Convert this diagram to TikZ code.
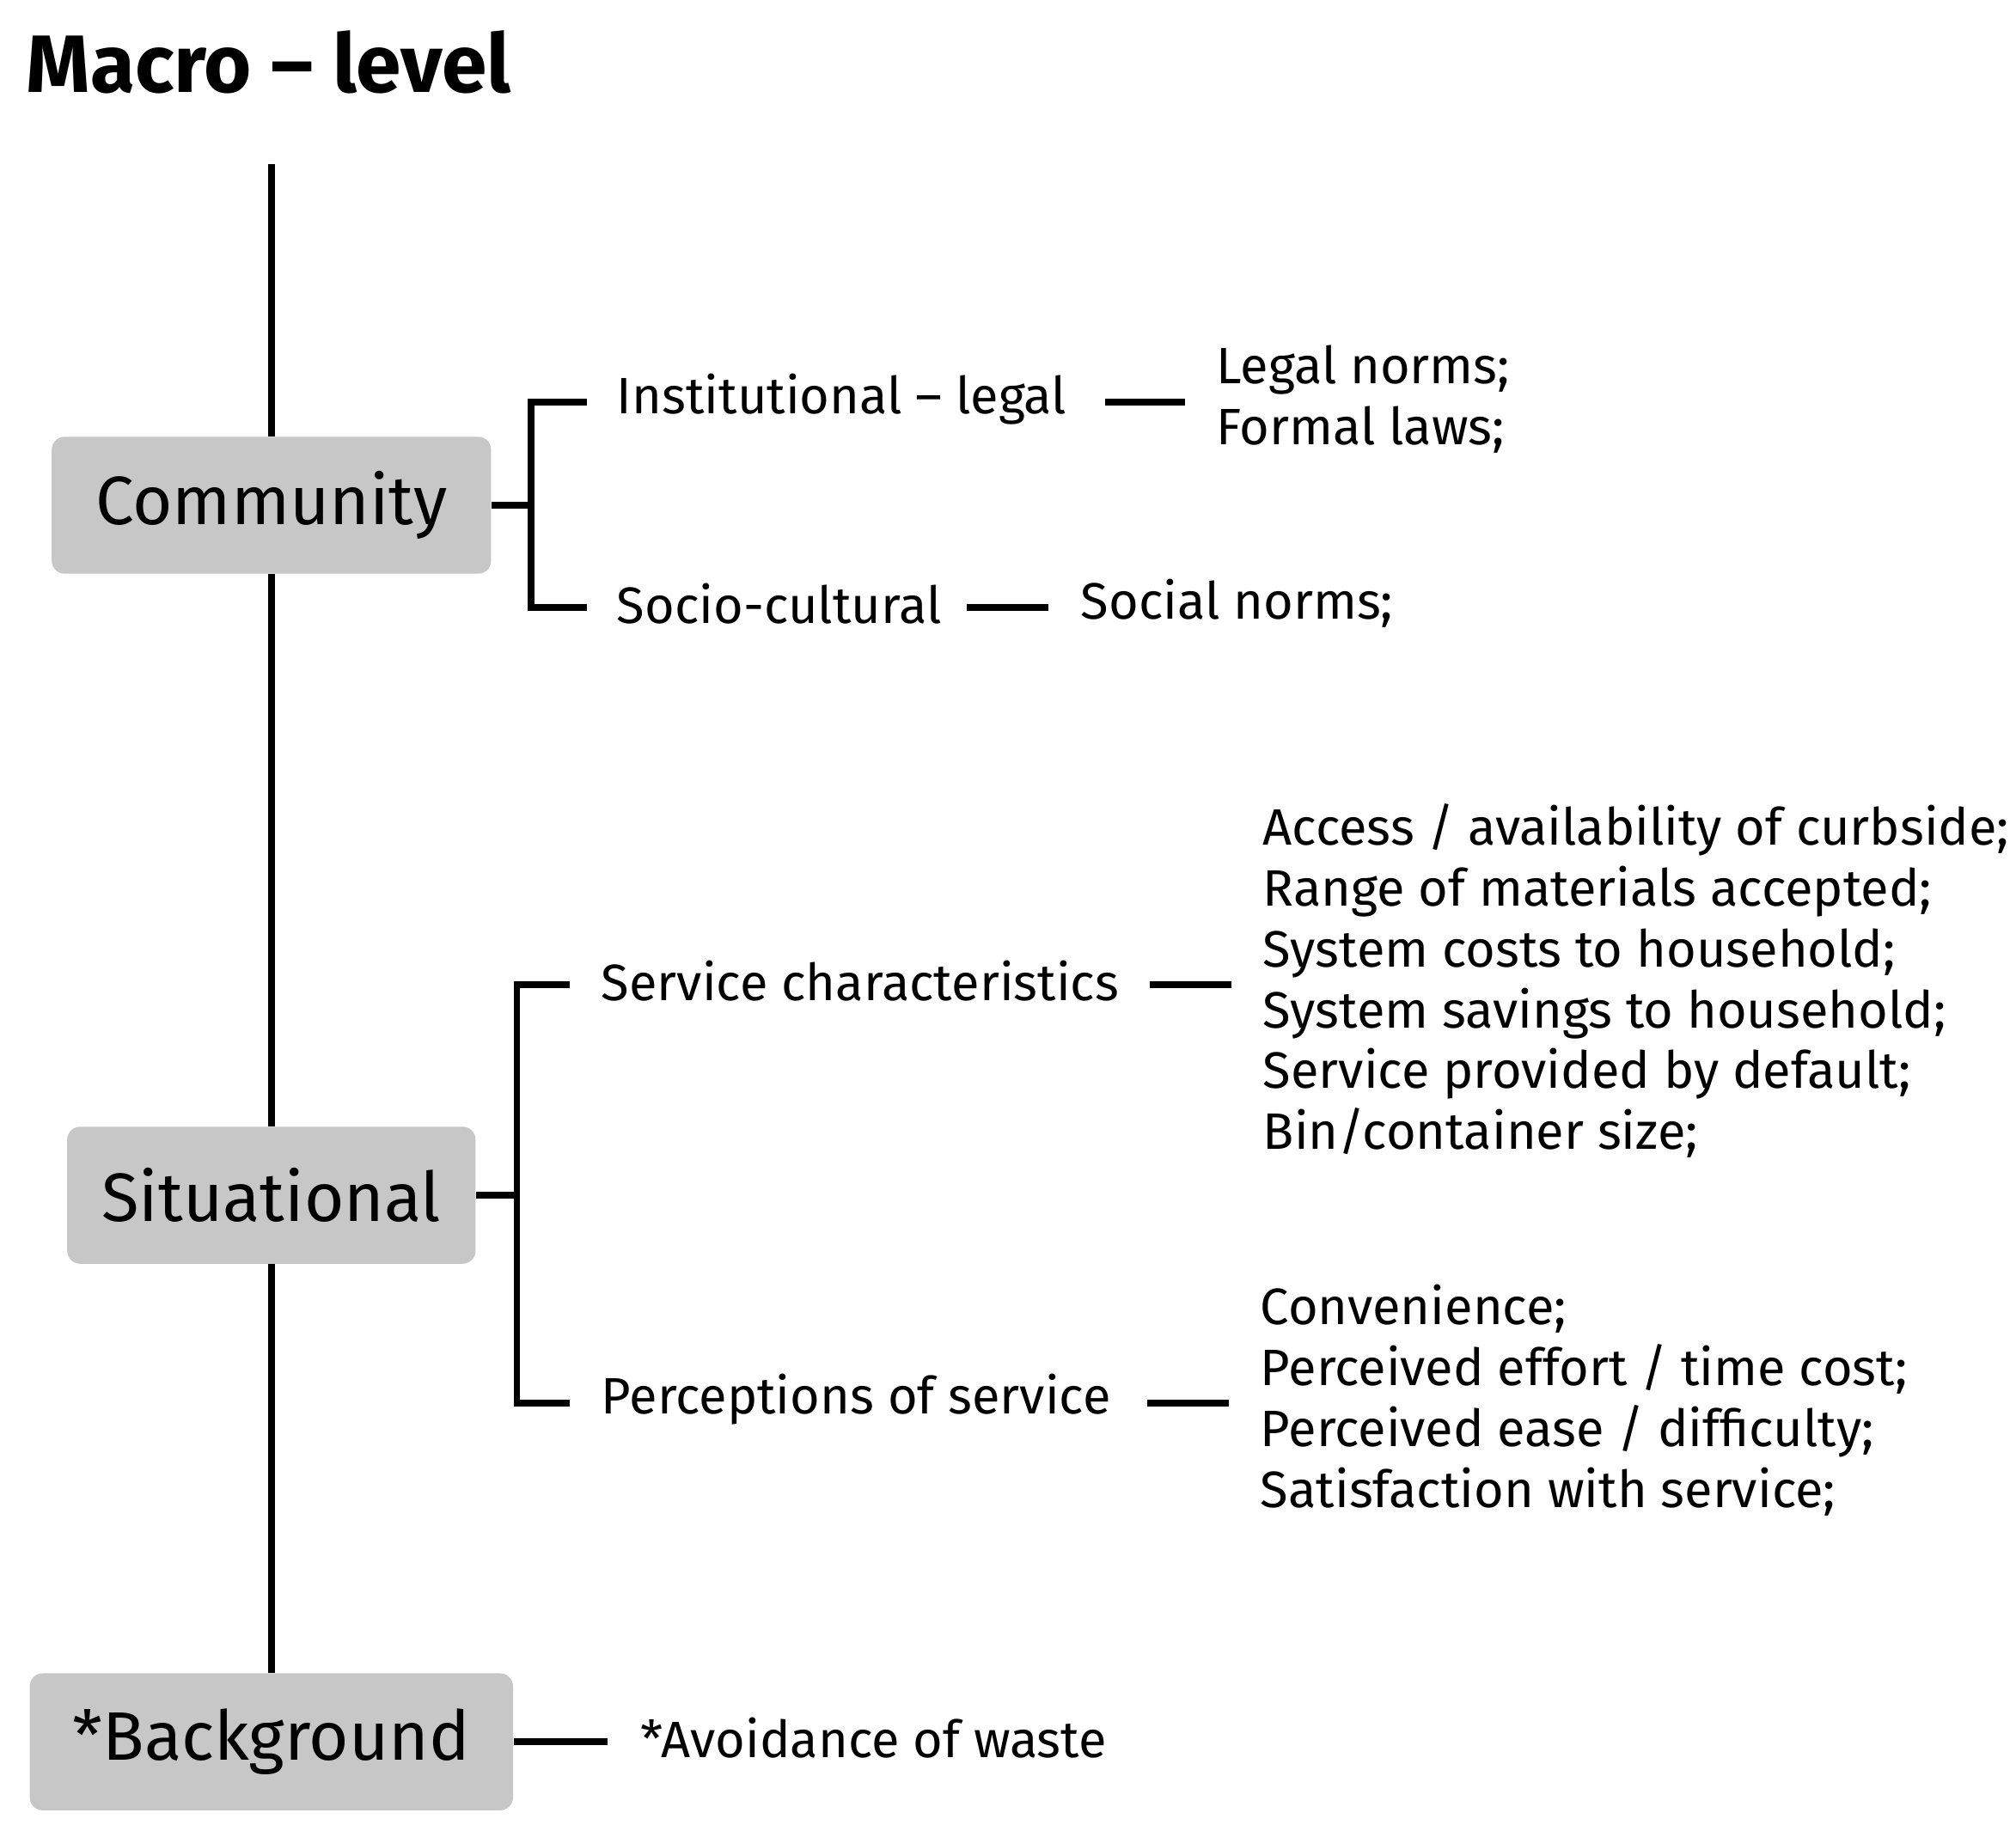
\documentclass[tikz,border=0pt]{standalone}
\usepackage{fontspec}
\setmainfont{Fira Sans}
\begin{document}
\begin{tikzpicture}[x=0.5pt,y=-0.5pt,
  ln/.style={line width=2.6pt},
  box/.style={fill=black!22,rounded corners=5pt,inner sep=0pt,font=\fontsize{26.5}{32}\selectfont},
  txt/.style={anchor=west,inner sep=0pt,font=\fontsize{19.8}{23.6}\selectfont,align=left}]
\useasboundingbox (0,0) rectangle (1560,1412);
\node[anchor=west,inner sep=0pt,font=\fontsize{31.5}{38}\bfseries\selectfont] (title) at (20,48) {Macro -- level};
\coordinate (top) at (210,127);
\node[box,minimum width=170pt,minimum height=53pt] (com) at (210,391) {Community};
\node[box,minimum width=158pt,minimum height=53pt] (sit) at (210,925) {Situational};
\node[box,minimum width=187pt,minimum height=53pt] (bg) at (210,1348) {*Background};
\draw[ln] (top) -- (com.north);
\draw[ln] (com.south) -- (sit.north);
\draw[ln] (sit.south) -- (bg.north);
% community
\node[txt] (inst) at (477,309) {Institutional -- legal};
\node[txt] (soc) at (477,467) {Socio-cultural};
\draw[ln] (com.east) -- (411,391);
\draw[ln] (454,311) -| (411,470) -- (454,470);
\node[txt] (legal) at (941,309) {Legal norms;\\Formal laws;};
\node[txt] (socn) at (836,467) {Social norms;};
\draw[ln] (855,311) -- (917,311);
\draw[ln] (748,470) -- (811,470);
% situational
\node[txt] (serv) at (465,759) {Service characteristics};
\node[txt] (perc) at (465,1083) {Perceptions of service};
\draw[ln] (sit.east) -- (400,925);
\draw[ln] (441,762) -| (400,1086) -- (441,1086);
\draw[ln] (890,762) -- (953,762);
\draw[ln] (888,1086) -- (951,1086);
\node[txt] (servl) at (977,759) {Access / availability of curbside;\\Range of materials accepted;\\System costs to household;\\System savings to household;\\Service provided by default;\\Bin/container size;};
\node[txt] (percl) at (975,1084) {Convenience;\\Perceived effort / time cost;\\Perceived ease / difficulty;\\Satisfaction with service;};
% background
\node[txt] (avoid) at (495,1345) {*Avoidance of waste};
\draw[ln] (bg.east) -- (470,1348);
\end{tikzpicture}
\end{document}
